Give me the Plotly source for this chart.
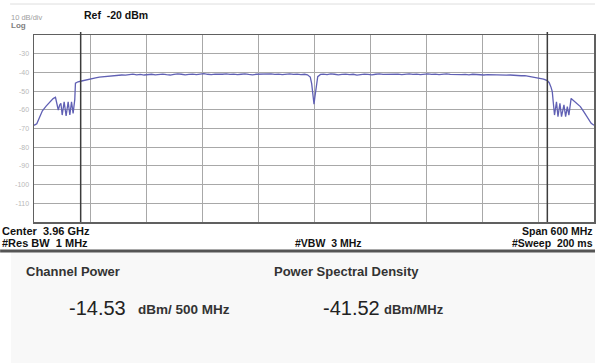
import plotly.graph_objects as go

# ---------------- data ----------------
center_ghz = 3.96
span_mhz = 600
channel_bw_mhz = 500

offset_mhz = [
    -300, -297, -294, -291, -287, -283, -279.5, -277, -275.5, -274, -272.5, -271.2, -269.8,
    -267.7, -265.6, -263.4, -261.6, -259.8, -258.1, -256.3, -255.6, -252.8, -249,
    -246, -242, -238, -234, -230, -226, -222, -218, -214, -210, -206, -202, -198, -194,
    -190, -186, -182, -178, -174, -170, -166, -162, -158, -154, -150, -146, -142, -138,
    -134, -130, -126, -122, -118, -114, -110, -106, -102, -98, -94, -90, -86, -82, -78,
    -74, -70, -66, -62, -58, -54, -50, -46, -42, -38, -34, -30, -26, -22, -18, -14, -10,
    -7, -4, -2.5, -1, 0, 1, 2.5, 4, 7, 10, 14, 18, 22, 26, 30, 34, 38, 42, 46, 50, 54,
    58, 62, 66, 70, 74, 78, 82, 86, 90, 94, 98, 102, 106, 110, 114, 118, 122, 126, 130,
    134, 138, 142, 146, 150, 154, 158, 162, 166, 170, 174, 178, 182, 186, 190, 194, 198,
    202, 206, 210, 214, 218, 222, 226, 230, 234, 238, 242, 246, 250, 252, 254,
    255.3, 256.3, 257.7, 259.8, 261.4, 263.5, 265.2, 267.8, 269.6, 271.4, 273.1, 275.5,
    279, 282, 285.4, 289, 292, 294.4, 297, 300,
]
power_dbm = [
    -68.3, -67.5, -64.0, -60.5, -58.0, -55.8, -54.0, -53.3, -57.0, -60.1, -57.5, -56.5, -62.8,
    -55.7, -63.3, -55.7, -62.8, -55.7, -61.9, -54.4, -45.8, -45.0, -44.6,
    -44.2, -43.8, -43.2, -42.9, -42.5, -42.3, -42.0, -41.9, -41.6, -41.7, -41.4, -41.5, -41.2, -40.9,
    -41.3, -41.1, -41.4, -41.2, -41.0, -41.3, -41.1, -40.9, -41.2, -41.4, -41.1, -40.8, -41.0, -41.3,
    -41.1, -40.9, -41.2, -41.0, -40.7, -41.0, -41.2, -40.9, -41.1, -41.0, -40.8, -41.1, -40.9, -41.2, -41.0,
    -40.8, -41.1, -41.3, -41.0, -40.9, -41.2, -41.0, -40.8, -41.1, -40.9, -41.2, -41.0, -40.8, -41.1, -40.9, -41.2, -41.0,
    -41.3, -42.5, -46.0, -53.0, -57.0, -53.0, -46.0, -42.3, -41.1, -40.9, -41.2, -40.8, -41.0, -41.3, -41.1, -40.9, -41.2, -41.0, -41.4, -41.2, -40.9,
    -41.1, -41.3, -41.0, -40.8, -41.1, -41.0, -40.7, -41.0, -40.9, -41.2, -41.0, -40.8, -41.1, -40.9, -41.2, -41.0, -40.8, -41.1, -40.9,
    -41.2, -41.0, -40.8, -41.1, -41.0, -40.9, -41.2, -41.1, -41.3, -41.0, -41.2, -41.1, -41.4, -41.2, -41.3, -41.1, -41.4,
    -41.3, -41.5, -41.4, -41.6, -41.5, -41.8, -41.7, -42.0, -42.3, -42.6, -43.2, -43.6, -44.4, -45.5, -48.0,
    -50.3, -55.7, -62.8, -55.7, -63.7, -56.5, -63.7, -57.4, -63.7, -58.3, -62.8, -53.9,
    -55.5, -56.8, -58.3, -61.0, -63.5, -65.5, -67.2, -68.3,
]

y_tick_vals = [-20, -30, -40, -50, -60, -70, -80, -90, -100, -110, -120]
y_tick_text = ["", "-30", "-40", "-50", "-60", "-70", "-80", "-90", "-100", "-110", ""]

ref_level_text = "Ref  -20 dBm"
scale_text = "10 dB/div"
footer_left = ["Center  3.96 GHz", "#Res BW  1 MHz"]
footer_mid = "#VBW  3 MHz"
footer_right = ["Span 600 MHz", "#Sweep  200 ms"]
result_labels = ["Channel Power", "Power Spectral Density"]
result_values = ["-14.53", "-41.52"]
result_units = ["dBm/ 500 MHz", "dBm/MHz"]

# ---------------- figure ----------------
W, H = 597, 363
L, R, T, B = 34, 1, 35, 141
PW, PH = W - L - R, H - T - B


def px(x):
    return (x - L) / PW


def py(y):
    return (H - B - y) / PH


freq_ghz = [center_ghz + m / 1000 for m in offset_mhz]
f_lo = center_ghz - span_mhz / 2000
f_hi = center_ghz + span_mhz / 2000
ch_lo = center_ghz - channel_bw_mhz / 2000
ch_hi = center_ghz + channel_bw_mhz / 2000

fig = go.Figure()
fig.add_trace(go.Scatter(
    x=freq_ghz, y=power_dbm, mode="lines",
    line=dict(color="#6060b4", width=1.3), hoverinfo="skip", showlegend=False,
))

FONT = "Liberation Sans, Arial, sans-serif"

fig.update_layout(
    width=W, height=H,
    margin=dict(l=L, r=R, t=T, b=B, pad=0),
    paper_bgcolor="white", plot_bgcolor="white",
    showlegend=False,
    font=dict(family=FONT),
    xaxis=dict(
        range=[f_lo, f_hi], dtick=span_mhz / 10000, tick0=f_lo,
        showticklabels=False, ticks="", showgrid=True,
        gridcolor="#a8a8a8", gridwidth=1,
        showline=True, mirror=True, linecolor="#606060", linewidth=1.5,
        zeroline=False, fixedrange=True,
    ),
    yaxis=dict(
        range=[-120, -20], tickvals=y_tick_vals, ticktext=y_tick_text,
        ticks="", showgrid=True, gridcolor="#a8a8a8", gridwidth=1,
        tickfont=dict(size=7, color="#b8b8b8", family=FONT),
        showline=True, mirror=True, linecolor="#606060", linewidth=1.5,
        zeroline=False, fixedrange=True, ticklabelstandoff=2,
    ),
)

shapes = []
# channel boundary markers
for f in (ch_lo, ch_hi):
    shapes.append(dict(type="line", xref="x", yref="paper", x0=f, x1=f, y0=0, y1=py(32),
                       line=dict(color="#3c3c3c", width=1.5)))
# top thin line
shapes.append(dict(type="line", xref="paper", yref="paper", x0=px(10), x1=px(597),
                   y0=py(4), y1=py(4), line=dict(color="#dedede", width=1)))
# lower panel background
shapes.append(dict(type="rect", xref="paper", yref="paper", x0=px(11), x1=px(597),
                   y0=py(363), y1=py(252), fillcolor="#f8f8f8", line=dict(width=0), layer="below"))
# separator
shapes.append(dict(type="line", xref="paper", yref="paper", x0=px(0), x1=px(597),
                   y0=py(251), y1=py(251), line=dict(color="#555555", width=3)))
fig.update_layout(shapes=shapes)


def ann(text, x, y, size, color="#111", bold=False, xanchor="left"):
    t = f"<b>{text}</b>" if bold else text
    fig.add_annotation(text=t, x=px(x), y=py(y), xref="paper", yref="paper",
                       xanchor=xanchor, yanchor="middle", showarrow=False,
                       font=dict(size=size, color=color, family=FONT))


ann(scale_text, 9, 17, 7.5, color="#a0a0a0")
ann("Log", 9, 25, 8, color="#808080", bold=True)
ann(ref_level_text, 82, 15, 10.5, color="#111", bold=True)

ann(footer_left[0], 0, 231, 11, bold=True)
ann(footer_left[1], 0, 243, 11, bold=True)
ann(footer_mid, 330, 243, 10.5, bold=True, xanchor="center")
ann(footer_right[0], 597, 231, 10.5, bold=True, xanchor="right")
ann(footer_right[1], 597, 243, 10.5, bold=True, xanchor="right")

ann(result_labels[0], 24, 271, 13, color="#333", bold=True)
ann(result_labels[1], 273, 271, 13, color="#333", bold=True)
ann(result_values[0], 67, 308, 20, color="#222")
ann(result_units[0], 136, 309, 13.5, color="#333", bold=True)
ann(result_values[1], 322, 308, 20, color="#222")
ann(result_units[1], 383, 309, 13, color="#333", bold=True)

fig.write_html(
    "out.html",
    config={"displayModeBar": False, "staticPlot": True},
    post_script="document.body.style.margin='0';document.body.style.padding='0';document.body.style.overflow='hidden';",
)
